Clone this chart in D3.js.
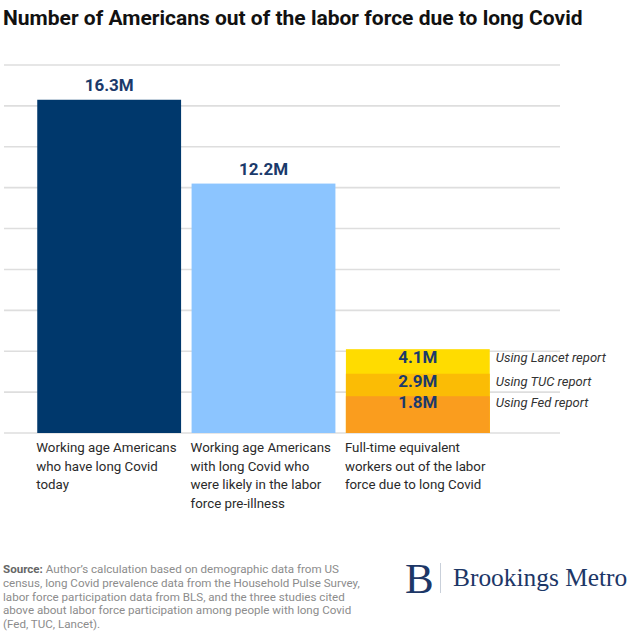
<!DOCTYPE html>
<html>
<head>
<meta charset="utf-8">
<script src="https://cdn.jsdelivr.net/npm/d3@7"></script>
<style>
  body { margin: 0; background: #fff; }
  svg { display: block; font-family: Roboto, "Noto Sans", sans-serif; }
</style>
</head>
<body>
<div id="chart"></div>
<script>
// data (millions)
var categories = ["today", "preIllness", "fte"];
var categoryLines = [
  ["Working age Americans", "who have long Covid", "today"],
  ["Working age Americans", "with long Covid who", "were likely in the labor", "force pre-illness"],
  ["Full-time equivalent", "workers out of the labor", "force due to long Covid"]
];
var mainValues = [16.3, 12.2];
var mainColors = ["#00386c", "#8cc5ff"];
var fteReports = ["Using Lancet report", "Using TUC report", "Using Fed report"];
var fteValues = [4.1, 2.9, 1.8];
var fteColors = ["#ffdc00", "#fbbc05", "#fa9d1e"];
var yTicks = [0, 2, 4, 6, 8, 10, 12, 14, 16, 18];

var width = 630, height = 633;
var navy = "#1b3a6b";

var svg = d3.select("#chart")
  .append("svg")
  .attr("width", width)
  .attr("height", height);

// title
svg.append("text")
  .attr("x", 3)
  .attr("y", 25)
  .style("font-size", "21px")
  .style("font-weight", "bold")
  .style("fill", "#111")
  .text("Number of Americans out of the labor force due to long Covid");

// scales
var y = d3.scaleLinear().domain([0, 18]).range([433, 65]);
var x = d3.scaleBand()
  .domain(categories)
  .range([32, 495])
  .paddingInner(0.068)
  .paddingOuter(0.034);

// gridlines
svg.append("g")
  .selectAll("line")
  .data(yTicks)
  .enter()
  .append("line")
  .attr("x1", 4)
  .attr("x2", 560)
  .attr("y1", function (d) { return y(d); })
  .attr("y2", function (d) { return y(d); })
  .style("stroke", "#dedede")
  .style("stroke-width", 1.6);

// first two bars
svg.selectAll("mainbar")
  .data(mainValues)
  .enter()
  .append("rect")
  .attr("x", function (d, i) { return x(categories[i]); })
  .attr("y", function (d) { return y(d); })
  .attr("width", x.bandwidth())
  .attr("height", function (d) { return y(0) - y(d); })
  .attr("fill", function (d, i) { return mainColors[i]; });

svg.selectAll("mainlabel")
  .data(mainValues)
  .enter()
  .append("text")
  .attr("x", function (d, i) { return x(categories[i]) + x.bandwidth() / 2; })
  .attr("y", function (d) { return y(d) - 9; })
  .attr("text-anchor", "middle")
  .style("font-size", "17px")
  .style("font-weight", "bold")
  .style("fill", navy)
  .text(function (d) { return d + "M"; });

// overlapping FTE bars, largest first
svg.selectAll("ftebar")
  .data(fteValues)
  .enter()
  .append("rect")
  .attr("x", x("fte"))
  .attr("y", function (d) { return y(d); })
  .attr("width", x.bandwidth())
  .attr("height", function (d) { return y(0) - y(d); })
  .attr("fill", function (d, i) { return fteColors[i]; });

svg.selectAll("ftelabel")
  .data(fteValues)
  .enter()
  .append("text")
  .attr("x", x("fte") + x.bandwidth() / 2)
  .attr("y", function (d, i) { return y(d) + 14 - i; })
  .attr("text-anchor", "middle")
  .style("font-size", "17px")
  .style("font-weight", "bold")
  .style("fill", navy)
  .text(function (d) { return d + "M"; });

svg.selectAll("ftenote")
  .data(fteValues)
  .enter()
  .append("text")
  .attr("x", x("fte") + x.bandwidth() + 6)
  .attr("y", function (d, i) { return y(d) + 13 - i; })
  .style("font-size", "13px")
  .style("font-style", "italic")
  .style("fill", "#333")
  .text(function (d, i) { return fteReports[i]; });

// category labels under the bars
categoryLines.forEach(function (lines, i) {
  var t = svg.append("text")
    .attr("x", x(categories[i]) - 1)
    .attr("y", 452)
    .style("font-size", "13.3px")
    .style("fill", "#2a2a2a");
  lines.forEach(function (line, j) {
    t.append("tspan")
      .attr("x", x(categories[i]) - 1)
      .attr("dy", j === 0 ? 0 : 18.5)
      .text(line);
  });
});

// source note
var sourceLines = [
  "census, long Covid prevalence data from the Household Pulse Survey,",
  "labor force participation data from BLS, and the three studies cited",
  "above about labor force participation among people with long Covid",
  "(Fed, TUC, Lancet)."
];
var src = svg.append("text")
  .attr("x", 3)
  .attr("y", 573)
  .style("font-size", "11.6px")
  .style("fill", "#8c8c8c");
src.append("tspan")
  .style("font-weight", "bold")
  .style("fill", "#666")
  .text("Source:");
src.append("tspan").text(" Author\u2019s calculation based on demographic data from US");
sourceLines.forEach(function (line) {
  src.append("tspan").attr("x", 3).attr("dy", 13.8).text(line);
});

// logo
svg.append("text")
  .attr("x", 405)
  .attr("y", 593)
  .style("font-family", "'Liberation Serif', 'DejaVu Serif', serif")
  .style("font-size", "43px")
  .style("fill", "#1d3767")
  .text("B");
svg.append("line")
  .attr("x1", 440.5).attr("x2", 440.5)
  .attr("y1", 563).attr("y2", 593)
  .style("stroke", "#c9d0da")
  .style("stroke-width", 1);
svg.append("text")
  .attr("x", 453)
  .attr("y", 586)
  .style("font-family", "'Liberation Serif', 'DejaVu Serif', serif")
  .style("font-size", "25.4px")
  .style("fill", "#1d3767")
  .text("Brookings Metro");
</script>
</body>
</html>
